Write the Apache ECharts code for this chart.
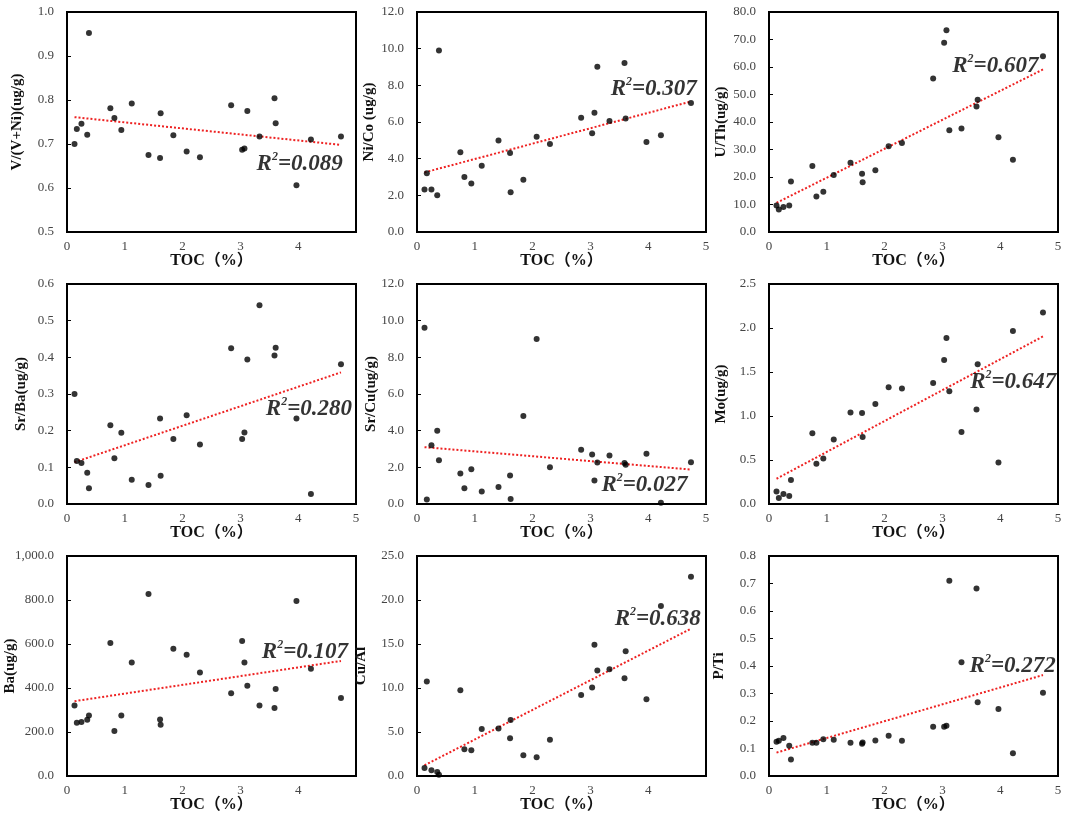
<!DOCTYPE html>
<html>
<head>
<meta charset="utf-8">
<script src="https://cdn.jsdelivr.net/npm/echarts@6/dist/echarts.min.js"></script>
<style>
  html, body { margin: 0; padding: 0; background: #fff; }
  #chart { width: 1065px; height: 818px; }
</style>
</head>
<body>
<div id="chart"></div>
<script>
// TOC (%) of the 25 samples, shared by every panel
const toc = [0.13, 0.17, 0.25, 0.35, 0.38, 0.75, 0.82, 0.94, 1.12, 1.41, 1.61, 1.62, 1.84,
  2.07, 2.30, 2.84, 3.03, 3.07, 3.12, 3.33, 3.59, 3.61, 3.97, 4.22, 4.74];

const vvni = [0.700, 0.734, 0.746, 0.721, 0.952, 0.781, 0.759, 0.732, 0.792, 0.675, 0.668, 0.770, 0.720,
  0.683, 0.670, 0.788, 0.687, 0.690, 0.775, 0.717, 0.804, 0.747, 0.606, 0.710, 0.717];
const niCo = [2.32, 3.21, 2.32, 2.01, 9.90, 4.35, 3.00, 2.65, 3.62, 4.99, 4.31, 2.17, 2.85,
  5.19, 4.80, 6.23, 5.39, 6.50, 9.02, 6.06, 9.22, 6.19, 4.91, 5.28, 7.03];
const uTh = [9.6, 8.2, 9.1, 9.6, 18.4, 24.0, 12.9, 14.6, 20.7, 25.2, 21.2, 18.1, 22.5,
  31.2, 32.4, 55.8, 68.8, 73.4, 37.0, 37.6, 45.6, 48.1, 34.5, 26.3, 63.9];
const srBa = [0.300, 0.117, 0.112, 0.085, 0.043, 0.215, 0.125, 0.194, 0.066, 0.052, 0.233, 0.077, 0.177,
  0.242, 0.162, 0.425, 0.177, 0.195, 0.394, 0.542, 0.405, 0.426, 0.233, 0.027, 0.381];
const srCu = [9.61, 0.24, 3.20, 4.00, 2.39, 1.66, 0.86, 1.90, 0.68, 0.93, 1.55, 0.27, 4.80,
  9.00, 2.01, 2.96, 2.70, 1.28, 2.26, 2.65, 2.23, 2.14, 2.74, 0.07, 2.28];
const mo = [0.143, 0.068, 0.113, 0.090, 0.272, 0.803, 0.456, 0.517, 0.732, 1.041, 1.033, 0.762, 1.135,
  1.327, 1.312, 1.376, 1.637, 1.885, 1.282, 0.818, 1.075, 1.588, 0.471, 1.965, 2.176];
const ba = [321, 242, 245, 256, 275, 605, 204, 275, 516, 827, 257, 233, 578,
  551, 471, 376, 614, 516, 410, 321, 309, 395, 795, 487, 354];
const cuAl = [0.90, 10.73, 0.65, 0.45, 0.15, 9.74, 3.04, 2.93, 5.33, 5.40, 4.30, 6.35, 2.36,
  2.13, 4.11, 9.21, 10.05, 14.92, 11.99, 12.14, 11.11, 14.19, 8.71, 19.33, 22.64];
const pTi = [0.125, 0.128, 0.138, 0.110, 0.060, 0.121, 0.121, 0.134, 0.132, 0.121, 0.117, 0.122, 0.129,
  0.146, 0.128, 0.179, 0.179, 0.183, 0.710, 0.414, 0.682, 0.268, 0.244, 0.083, 0.303];

// trend lines (value at first and last TOC)
const trendX = [0.13, 4.74];
const trendStart = [0.761, 3.25, 10.6, 0.114, 3.10, 0.287, 340, 1.22, 0.085];
const trendEnd = [0.698, 7.12, 59.1, 0.359, 1.88, 1.904, 523, 16.74, 0.367];
const r2Text = ['0.089', '0.307', '0.607', '0.280', '0.027', '0.647', '0.107', '0.638', '0.272'];

const yTitles = ['V/(V+Ni)(ug/g)', 'Ni/Co (ug/g)', 'U/Th(ug/g)', 'Sr/Ba(ug/g)', 'Sr/Cu(ug/g)',
  'Mo(ug/g)', 'Ba(ug/g)', 'Cu/Al', 'P/Ti'];
const yValues = [vvni, niCo, uTh, srBa, srCu, mo, ba, cuAl, pTi];

// axis ranges and label anchors per panel
const panels = [
  { min: 0.5, max: 1.0, step: 0.1, gap: 42, r2: [3.28, 0.655], hideMax: true },
  { min: 0, max: 12, step: 2, gap: 40, r2: [3.35, 7.8] },
  { min: 0, max: 80, step: 10, gap: 40, r2: [3.17, 60.5] },
  { min: 0, max: 0.6, step: 0.1, gap: 38, r2: [3.44, 0.26] },
  { min: 0, max: 12, step: 2, gap: 38, r2: [3.19, 1.04] },
  { min: 0, max: 2.5, step: 0.5, gap: 40, r2: [3.48, 1.39] },
  { min: 0, max: 1000, step: 200, gap: 49, r2: [3.37, 565], hideMax: true, comma: true },
  { min: 0, max: 25, step: 5, gap: 48, r2: [3.42, 17.8], hideMax: true },
  { min: 0, max: 0.8, step: 0.1, gap: 42, r2: [3.47, 0.40] }
];

const colLeft = [67, 417, 769];
const rowTop = [12, 284, 556];
const serif = "'Liberation Serif', 'Times New Roman', 'Noto Sans CJK SC', serif";

const grids = [], xAxes = [], yAxes = [], series = [];

panels.forEach(function (p, i) {
  const r = Math.floor(i / 3), c = i % 3;
  grids.push({
    left: colLeft[c], top: rowTop[r], width: 289, height: 220,
    outerBoundsMode: 'none',
    show: true, borderColor: '#000', borderWidth: 2
  });
  xAxes.push({
    gridIndex: i, type: 'value', min: 0, max: 5, interval: 1,
    name: 'TOC（%）', nameLocation: 'middle', nameGap: 21, nameMoveOverlap: false,
    nameTextStyle: { fontFamily: serif, fontWeight: 'bold', fontSize: 16, color: '#111' },
    axisLine: { lineStyle: { color: '#000', width: 2 } },
    axisTick: { show: false },
    splitLine: { show: false },
    axisLabel: {
      fontFamily: serif, fontSize: 13, color: '#444', margin: 8,
      showMaxLabel: !p.hideMax
    }
  });
  yAxes.push({
    gridIndex: i, type: 'value', min: p.min, max: p.max, interval: p.step,
    name: yTitles[i], nameLocation: 'middle', nameGap: p.gap, nameRotate: 90,
    nameMoveOverlap: false,
    nameTextStyle: { fontFamily: serif, fontWeight: 'bold', fontSize: 15, color: '#111' },
    axisLine: { show: true, lineStyle: { color: '#000', width: 2 } },
    axisTick: { show: true, inside: true, length: 4, lineStyle: { color: '#000' } },
    splitLine: { show: false },
    axisLabel: {
      fontFamily: serif, fontSize: 13, color: '#444', margin: 13,
      formatter: function (v) {
        return p.comma
          ? v.toLocaleString('en-US', { minimumFractionDigits: 1, maximumFractionDigits: 1 })
          : v.toFixed(1);
      }
    }
  });
  series.push({
    type: 'scatter', xAxisIndex: i, yAxisIndex: i,
    symbolSize: 6, itemStyle: { color: '#000' },
    data: toc.map(function (x, k) { return [x, yValues[i][k]]; }),
    z: 3
  });
  series.push({
    type: 'line', xAxisIndex: i, yAxisIndex: i,
    showSymbol: false, silent: true,
    lineStyle: { color: '#ee2222', width: 2, type: 'dotted' },
    data: [[trendX[0], trendStart[i]], [trendX[1], trendEnd[i]]],
    z: 2
  });
  series.push({
    type: 'scatter', xAxisIndex: i, yAxisIndex: i,
    symbolSize: 0, silent: true,
    data: [p.r2],
    label: {
      show: true, position: 'right', distance: 0,
      formatter: '{a|R}{s|2}{a|=' + r2Text[i] + '}',
      rich: {
        a: { fontFamily: serif, fontSize: 23, fontWeight: 'bold', fontStyle: 'italic', color: '#000', lineHeight: 26 },
        s: { fontFamily: serif, fontSize: 12, fontWeight: 'bold', fontStyle: 'italic', color: '#000', verticalAlign: 'top', lineHeight: 26 }
      }
    },
    z: 4
  });
});

const chart = echarts.init(document.getElementById('chart'));
chart.setOption({
  animation: false,
  backgroundColor: '#fff',
  grid: grids,
  xAxis: xAxes,
  yAxis: yAxes,
  series: series
});
</script>
</body>
</html>
